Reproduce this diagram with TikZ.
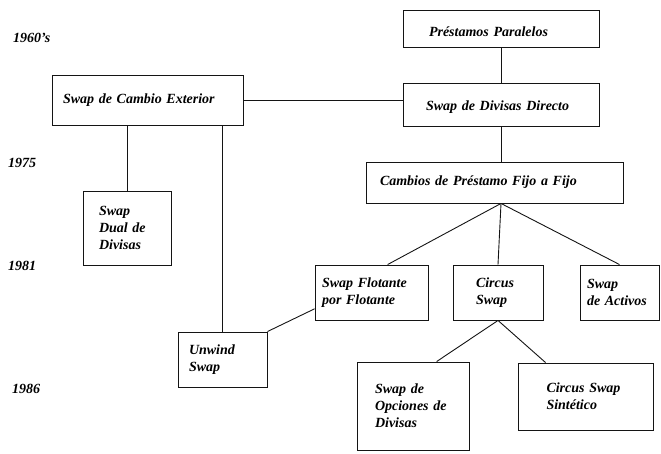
\documentclass[tikz,border=0pt]{standalone}
\usepackage{fontspec}
\setmainfont{Liberation Serif}
\definecolor{inkDraw}{HTML}{141414}

\begin{document}
\begin{tikzpicture}[
  x=1pt,y=-1pt,
  bx/.style={draw=inkDraw,line width=0.9pt,align=left,inner ysep=0pt,
    font=\fontsize{14}{17}\selectfont\bfseries\itshape},
  yr/.style={anchor=base west,inner sep=0pt,
    font=\fontsize{14}{17}\selectfont\bfseries\itshape},
  ln/.style={draw=inkDraw,line width=0.9pt},
]
\useasboundingbox (0,0) rectangle (661,454);

% ---- year captions ------------------------------------------------------
\node[yr] (y60) at (13, 43)  {1960's};
\node[yr] (y75) at ( 8,168)  {1975};
\node[yr] (y81) at ( 8,271)  {1981};
\node[yr] (y86) at (12,393)  {1986};

% ---- boxes --------------------------------------------------------------
\node[bx,text width=144pt,inner xsep=26pt,minimum height=37pt,
  text height=21pt,text depth=4pt] (prest) at (501,28.5) {Préstamos Paralelos};
\node[bx,text width=150pt,inner xsep=23pt,minimum height=43pt,
  text height=17pt,text depth=4pt] (direc) at (501,104.5) {Swap de Divisas Directo};
\node[bx,text width=169pt,inner xsep=11pt,minimum height=50pt] (exter) at (147.5,100) {Swap de Cambio Exterior};
\node[bx,text width=56pt,inner xsep=16pt,minimum height=74pt] (dual) at (127,228) {Swap\\Dual de\\Divisas};
\node[bx,text width=229pt,inner xsep=14pt,minimum height=41pt] (fijo) at (494.5,182.5) {Cambios de Préstamo Fijo a Fijo};

% 1981 row
\node[bx,text width=99pt,inner xsep=7pt,minimum height=55pt] (flot) at (371.5,292.5) {Swap Flotante\\por Flotante};
\node[bx,text width=44pt,inner xsep=23pt,minimum height=55pt] (circ) at (498,292.5) {Circus\\Swap};
\node[bx,text width=65pt,inner xsep=7pt,minimum height=55pt] (activ) at (619.5,292.5) {Swap\\de Activos};
\node[bx,text width=67pt,inner xsep=11pt,minimum height=55pt] (unw) at (222.5,359.5) {Unwind\\Swap};

% 1986 row
\node[bx,text width=76pt,inner xsep=18pt,minimum height=88pt] (opc) at (413,406) {Swap de\\Opciones de\\Divisas};
\node[bx,text width=79pt,inner xsep=28pt,minimum height=67pt] (sint) at (586,396.5) {Circus Swap\\Sintético};

% ---- connectors ---------------------------------------------------------
\draw[ln] (prest) -- (direc);
\draw[ln] (exter.east) -- (exter.east -| direc.west);
\draw[ln] (dual.north) -- (dual.north |- exter.south);
\draw[ln] (unw.north) -- (unw.north |- exter.south);
\draw[ln] (direc.south) -- (direc.south |- fijo.north);
\coordinate (fork) at (direc.south |- fijo.south);
\draw[ln] (fork) -- (flot.60);
\draw[ln] (fork) -- (circ.north);
\draw[ln] (fork) -- (activ.north);
\draw[ln] (unw.north east) -- (flot.196);
\draw[ln] (circ.south) -- (opc.62);
\draw[ln] (circ.south) -- (sint.140);

\end{tikzpicture}
\end{document}
